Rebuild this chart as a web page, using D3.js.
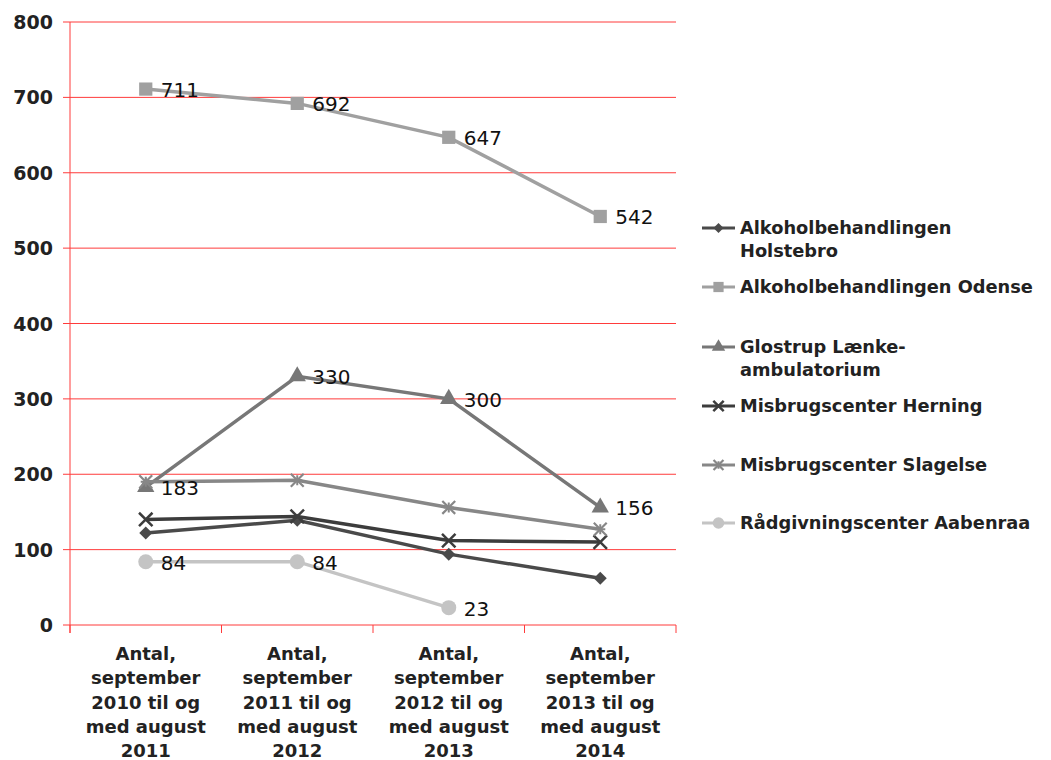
<!DOCTYPE html>
<html>
<head>
<meta charset="utf-8">
<script src="https://cdn.jsdelivr.net/npm/d3@7"></script>
<style>
  body { margin: 0; background: #fff; }
  svg { font-family: "DejaVu Sans", Verdana, sans-serif; }
</style>
</head>
<body>
<svg id="chart" width="1051" height="760"></svg>
<script>
const categories = [
  ["Antal,", "september", "2010 til og", "med august", "2011"],
  ["Antal,", "september", "2011 til og", "med august", "2012"],
  ["Antal,", "september", "2012 til og", "med august", "2013"],
  ["Antal,", "september", "2013 til og", "med august", "2014"]
];
const seriesNames = [
  ["Alkoholbehandlingen", "Holstebro"],
  ["Alkoholbehandlingen Odense"],
  ["Glostrup Lænke-", "ambulatorium"],
  ["Misbrugscenter Herning"],
  ["Misbrugscenter Slagelse"],
  ["Rådgivningscenter Aabenraa"]
];
const holstebro = [122, 139, 94, 62];
const odense = [711, 692, 647, 542];
const glostrup = [183, 330, 300, 156];
const herning = [140, 144, 112, 110];
const slagelse = [190, 192, 156, 127];
const aabenraa = [84, 84, 23, null];
const yTicks = [0, 100, 200, 300, 400, 500, 600, 700, 800];

const colors = ["#4a4a4a", "#a0a0a0", "#777777", "#3c3c3c", "#878787", "#c4c4c4"];
const symbols = ["diamond", "square", "triangle", "x", "star", "circle"];
const showLabels = [false, true, true, false, false, true];
const allSeries = [holstebro, odense, glostrup, herning, slagelse, aabenraa];

const svg = d3.select("#chart");
const plotLeft = 70, plotRight = 676, plotTop = 22, plotBottom = 625;
const red = "#ff3b3b";

const x = d3.scaleBand().domain(d3.range(categories.length)).range([plotLeft, plotRight]);
const y = d3.scaleLinear().domain([0, 800]).range([plotBottom, plotTop]);

// gridlines
svg.append("g").selectAll("line").data(yTicks).enter().append("line")
  .attr("x1", plotLeft - 7).attr("x2", plotRight)
  .attr("y1", d => y(d)).attr("y2", d => y(d))
  .attr("stroke", red).attr("stroke-width", 1);

// y axis
svg.append("line").attr("x1", plotLeft).attr("x2", plotLeft).attr("y1", plotTop).attr("y2", plotBottom + 8)
  .attr("stroke", red);
svg.append("g").selectAll("text").data(yTicks).enter().append("text")
  .attr("x", plotLeft - 17).attr("y", d => y(d) + 7)
  .attr("text-anchor", "end").attr("font-size", 19).attr("font-weight", "bold")
  .attr("fill", "#222").text(d => d);

// x ticks at band boundaries
svg.append("g").selectAll("line").data(d3.range(categories.length + 1)).enter().append("line")
  .attr("x1", i => plotLeft + i * x.bandwidth()).attr("x2", i => plotLeft + i * x.bandwidth())
  .attr("y1", plotBottom).attr("y2", plotBottom + 8).attr("stroke", red);

// x labels
categories.forEach((lines, i) => {
  const t = svg.append("text").attr("text-anchor", "middle").attr("font-size", 18)
    .attr("font-weight", "bold").attr("fill", "#222");
  lines.forEach((l, j) => {
    t.append("tspan").attr("x", x(i) + x.bandwidth() / 2).attr("y", 660 + j * 24.3).text(l);
  });
});

const cx = i => x(i) + x.bandwidth() / 2;

function drawSymbol(g, type, px, py, color, s) {
  s = s || 1;
  if (type === "diamond") {
    g.append("path").attr("d", d3.symbol(d3.symbolSquare, 85 * s)())
      .attr("transform", `translate(${px},${py}) rotate(45)`).attr("fill", color);
  } else if (type === "square") {
    g.append("path").attr("d", d3.symbol(d3.symbolSquare, 175 * s)())
      .attr("transform", `translate(${px},${py})`).attr("fill", color);
  } else if (type === "triangle") {
    g.append("path").attr("d", d3.symbol(d3.symbolTriangle, 130 * s)())
      .attr("transform", `translate(${px},${py})`).attr("fill", color);
  } else if (type === "x") {
    g.append("path").attr("d", d3.symbol(d3.symbolX, 120 * s)())
      .attr("transform", `translate(${px},${py})`).attr("stroke", color).attr("stroke-width", 2.5).attr("fill", "none");
  } else if (type === "star") {
    g.append("path").attr("d", d3.symbol(d3.symbolX, 110 * s)())
      .attr("transform", `translate(${px},${py})`).attr("stroke", color).attr("stroke-width", 2.2).attr("fill", "none");
    g.append("path").attr("d", d3.symbol(d3.symbolPlus, 35 * s)())
      .attr("transform", `translate(${px},${py})`).attr("stroke", color).attr("stroke-width", 2).attr("fill", "none");
  } else {
    g.append("circle").attr("cx", px).attr("cy", py).attr("r", 7.5 * Math.sqrt(s)).attr("fill", color);
  }
}

const line = d3.line().defined(d => d != null).x((d, i) => cx(i)).y(d => y(d));

allSeries.forEach((vals, k) => {
  const g = svg.append("g");
  g.append("path").datum(vals).attr("d", line).attr("fill", "none")
    .attr("stroke", colors[k]).attr("stroke-width", 3.5);
  vals.forEach((v, i) => {
    if (v == null) return;
    drawSymbol(g, symbols[k], cx(i), y(v), colors[k]);
  });
});

// data labels
allSeries.forEach((vals, k) => {
  if (!showLabels[k]) return;
  vals.forEach((v, i) => {
    if (v == null) return;
    svg.append("text").attr("x", cx(i) + 15).attr("y", y(v) + 8)
      .attr("font-size", 20).attr("fill", "#111").text(v);
  });
});

// legend
const legendY = [228, 287, 347, 406, 465, 523];
seriesNames.forEach((lines, k) => {
  const g = svg.append("g");
  const ly = legendY[k];
  g.append("line").attr("x1", 702).attr("x2", 735).attr("y1", ly).attr("y2", ly)
    .attr("stroke", colors[k]).attr("stroke-width", 3);
  drawSymbol(g, symbols[k], 718.5, ly, colors[k], 0.6);
  const t = g.append("text").attr("font-size", 17.8).attr("font-weight", "bold").attr("fill", "#222");
  lines.forEach((l, j) => {
    t.append("tspan").attr("x", 740).attr("y", ly + 6 + j * 23).text(l);
  });
});
</script>
</body>
</html>
